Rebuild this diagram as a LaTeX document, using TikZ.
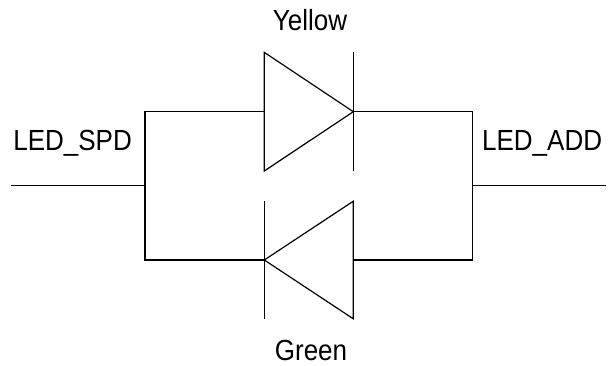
\documentclass[tikz,border=0pt]{standalone}
\usepackage{fontspec}
\setmainfont{Liberation Sans}
\begin{document}
\begin{tikzpicture}[x=1pt, y=1pt, line width=1.2pt,
    lbl/.style={font=\fontsize{26}{30}\selectfont, inner sep=0pt, yscale=1.12, transform shape}]
  \useasboundingbox (0, 0) rectangle (610, 365);
  % junctions
  \coordinate (inL) at (11, 179.3);
  \coordinate (jL) at (145, 179.3);
  \coordinate (jR) at (472.3, 179.3);
  \coordinate (outR) at (606, 179.3);
  \coordinate (ya) at (264.3, 253.3);
  \coordinate (yk) at (353.3, 253.3);
  \coordinate (gk) at (264.3, 105);
  \coordinate (ga) at (353.3, 105);
  % wires
  \draw (inL) -- (jL);
  \draw (jR) -- (outR);
  \draw (ya) -- (jL |- ya) -- (jL |- gk) -- (gk);
  \draw (yk) -- (jR |- yk) -- (jR |- ga) -- (ga);
  % yellow diode
  \draw (ya) ++(0, 59.3) -- ++(0, -118.6) -- (yk) -- cycle;
  \draw (yk) ++(0, 59.3) -- ++(0, -118.6);
  % green diode
  \draw (ga) ++(0, 58.8) -- ++(0, -117.6) -- (gk) -- cycle;
  \draw (gk) ++(0, 58.8) -- ++(0, -117.6);
  % labels
  \node (yellow) [lbl, anchor=base] at (310, 334.3) {Yellow};
  \node (green) [lbl, anchor=base] at (311, 5) {Green};
  \node (spd) [lbl, anchor=base west] at (12.7, 214.3) {LED\_SPD};
  \node (add) [lbl, anchor=base east] at (602.7, 215) {LED\_ADD};
\end{tikzpicture}
\end{document}
